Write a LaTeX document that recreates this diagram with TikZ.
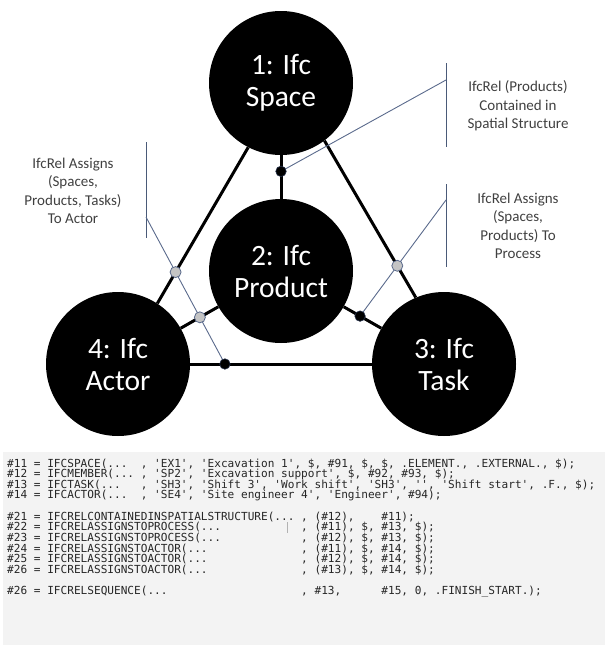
\documentclass[tikz,border=0pt]{standalone}
\usepackage{fontspec}
\setmainfont{Carlito}
\setmonofont{DejaVu Sans Mono}
\usetikzlibrary{calc}
\definecolor{slate}{HTML}{5A6A8C}
\definecolor{bracketc}{HTML}{4A5A78}
\definecolor{labelc}{HTML}{404040}
\definecolor{codebg}{HTML}{F3F3F3}
\definecolor{codec}{HTML}{262626}
\definecolor{greydot}{HTML}{C4C4C4}
\definecolor{dotrim}{HTML}{24304A}
\begin{document}
\begin{tikzpicture}[x=1pt,y=-1pt,
  entity/.style={circle, fill=black, inner sep=0pt, minimum size=144pt, text=white, align=center, font=\fontsize{29.5}{32}\selectfont},
  rel/.style={line width=3pt, black},
  leader/.style={slate, line width=0.9pt},
  bracket/.style={bracketc, line width=1pt},
  bdot/.style={circle, fill=black, draw=dotrim, line width=0.6pt, inner sep=0pt, minimum size=10.5pt},
  gdot/.style={circle, fill=greydot, draw=slate, line width=0.8pt, inner sep=0pt, minimum size=11pt},
  lbl/.style={text=labelc, align=center, font=\fontsize{15}{18.5}\selectfont},
  codeline/.style={anchor=base west, inner sep=0pt, text=codec, font=\ttfamily\fontsize{11.1}{11}\selectfont}
]
\useasboundingbox (0,0) rectangle (607,645);

% code background
\fill[codebg] (3,452) rectangle (605,645);

% entities
\node[entity] (space)   at (281,83)  {1: Ifc\\Space};
\node[entity] (product) at (281,271) {2: Ifc\\Product};
\node[entity] (actor)   at (118,364) {4: Ifc\\Actor};
\node[entity] (task)    at (444,364) {3: Ifc\\Task};

% relations
\draw[rel] (space) -- (product);
\draw[rel] (space.-117) -- (actor.57);
\draw[rel] (space.-53) -- (task.113);
\draw[rel] (actor) -- (product);
\draw[rel] (product) -- (task);
\draw[rel] (actor) -- (task);

% brackets
\coordinate (bA1) at (446,63);  \coordinate (bA2) at (446,147); \coordinate (bAc) at (446,80);
\coordinate (bB1) at (446,184); \coordinate (bB2) at (446,267); \coordinate (bBc) at (446,200);
\coordinate (bC1) at (146,142); \coordinate (bC2) at (146,238); \coordinate (bCc) at (146,217);
\draw[bracket] (bA1) -- (bA2);
\draw[bracket] (bB1) -- (bB2);
\draw[bracket] (bC1) -- (bC2);

% dot positions
\coordinate (d1) at ($(space)!0.47!(product)$);
\coordinate (d2) at ($(product)!0.485!(task)$);
\coordinate (d3) at ($(actor)!0.328!(task)$);
\coordinate (g1) at (intersection of bCc--d3 and space.-117--actor.57);
\coordinate (g2) at (intersection of bCc--d3 and actor.center--product.center);
\coordinate (g3) at (intersection of bBc--d2 and space.-53--task.113);

% leader lines
\draw[leader] (bAc) -- (d1);
\draw[leader] (bBc) -- (d2);
\draw[leader] (bCc) -- (d3);

% dots
\node[bdot] (dot1) at (d1) {};
\node[bdot] (dot2) at (d2) {};
\node[bdot] (dot3) at (d3) {};
\node[gdot] (gdot1) at (g1) {};
\node[gdot] (gdot2) at (g2) {};
\node[gdot] (gdot3) at (g3) {};

% labels
\node[lbl] (lblA) at (518,106) {IfcRel (Products)\\Contained in\\Spatial Structure};
\node[lbl] (lblB) at (518,226) {IfcRel Assigns\\(Spaces,\\Products) To\\Process};
\node[lbl] (lblC) at (73,191)  {IfcRel Assigns\\(Spaces,\\Products, Tasks)\\To Actor};

% code
\node[codeline] (c1)  at (7,467)   {\#11 = IFCSPACE(...~~, 'EX1', 'Excavation 1', \$, \#91, \$, \$, .ELEMENT., .EXTERNAL., \$);};
\node[codeline] (c2)  at (7,477.65) {\#12 = IFCMEMBER(... , 'SP2', 'Excavation support', \$, \#92, \#93, \$);};
\node[codeline] (c3)  at (7,488.3) {\#13 = IFCTASK(...~~~, 'SH3', 'Shift 3', 'Work shift', 'SH3', '', 'Shift start', .F., \$);};
\node[codeline] (c4)  at (7,498.95) {\#14 = IFCACTOR(...~~, 'SE4', 'Site engineer 4', 'Engineer', \#94);};
\node[codeline] (c5)  at (7,520.25) {\#21 = IFCRELCONTAINEDINSPATIALSTRUCTURE(... , (\#12),~~~~\#11);};
\node[codeline] (c6)  at (7,530.9) {\#22 = IFCRELASSIGNSTOPROCESS(...~~~~~~~~~~~~, (\#11), \$, \#13, \$);};
\node[codeline] (c7)  at (7,541.55) {\#23 = IFCRELASSIGNSTOPROCESS(...~~~~~~~~~~~~, (\#12), \$, \#13, \$);};
\node[codeline] (c8)  at (7,552.2) {\#24 = IFCRELASSIGNSTOACTOR(...~~~~~~~~~~~~~~, (\#11), \$, \#14, \$);};
\node[codeline] (c9)  at (7,562.85) {\#25 = IFCRELASSIGNSTOACTOR(...~~~~~~~~~~~~~~, (\#12), \$, \#14, \$);};
\node[codeline] (c10) at (7,573.5) {\#26 = IFCRELASSIGNSTOACTOR(...~~~~~~~~~~~~~~, (\#13), \$, \#14, \$);};
\node[codeline] (c11) at (7,594.8) {\#26 = IFCRELSEQUENCE(...~~~~~~~~~~~~~~~~~~~~, \#13,~~~~~~\#15, 0, .FINISH\_START.);};
\draw[gray!60, line width=0.8pt] (287,522) -- (287,533);
\end{tikzpicture}
\end{document}
